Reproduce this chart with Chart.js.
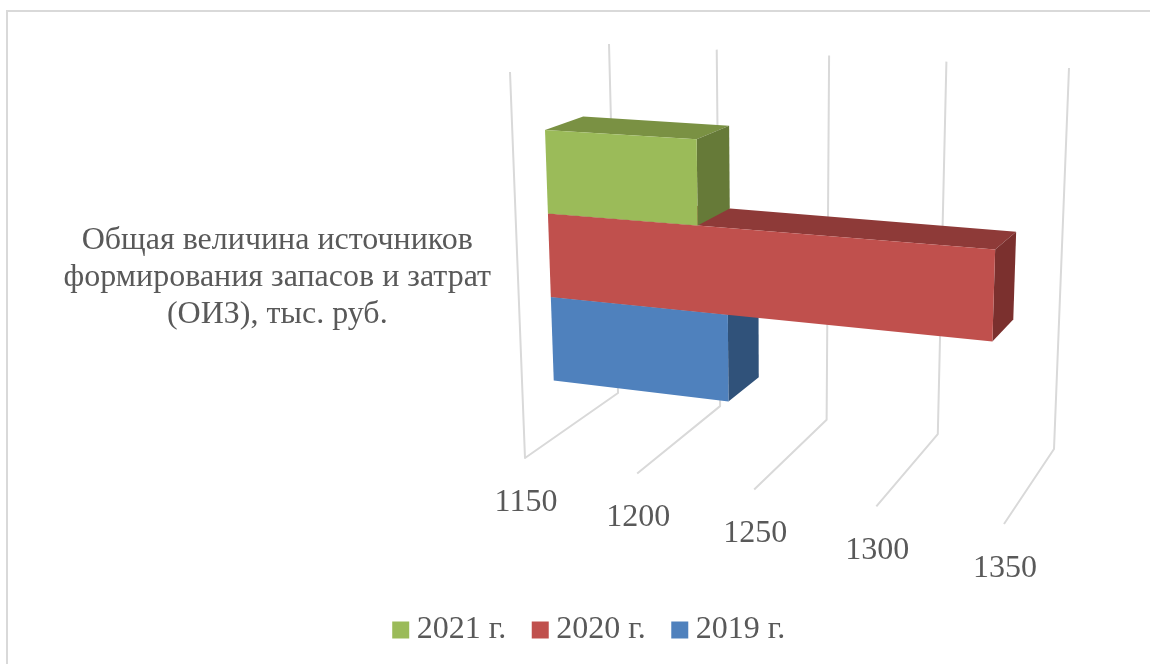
<!DOCTYPE html>
<html>
<head>
<meta charset="utf-8">
<style>
  html, body { margin: 0; padding: 0; background: #fff; overflow: hidden; }
  #frame { position: absolute; left: 6px; top: 10px; width: 1300px; height: 800px; border: 2px solid #d9d9d9; }
  #myChart { position: absolute; left: 0; top: 0; }
</style>
<script src="https://cdn.jsdelivr.net/npm/chart.js@4"></script>
</head>
<body>
<div id="frame"></div>
<canvas id="myChart" width="1150" height="664"></canvas>
<script>
const categories = [['Общая величина источников', 'формирования запасов и затрат', '(ОИЗ), тыс. руб.']];
const seriesNames = ['2021 г.', '2020 г.', '2019 г.'];
const values2021 = [1216];
const values2020 = [1337];
const values2019 = [1228.6];
const axisMin = 1150;
const axisMax = 1350;
const axisStep = 50;

const frontColors = ['#9bbb59', '#c0504d', '#4f81bd'];
const topColors = ['#7a9143', '#8e3a38', '#3b6291'];
const sideColors = ['#667a38', '#7b302e', '#30527a'];
const gridColor = '#d9d9d9';
const textColor = '#595959';
const fontFamily = '"Liberation Serif", serif';

// corners of the 3d box on screen: [u][v][w], u = value, v = top/bottom, w = front/back
const box = {
  ftl: [510, 72], ftr: [1018, 94], fbl: [525, 458], fbr: [1004, 524],
  btl: [609, 44], btr: [1069, 68], bbl: [618, 393], bbr: [1054, 449]
};
const barFront = 0.33; // depth where the bars start
const barBack = 0.72;  // depth where they end
const vShift = 0.015;
const uWarp = 1.09;    // perspective along the value axis

function lerp(a, b, t) { return a + (b - a) * t; }

function project(u, v, w) {
  const p = u / (u + uWarp * (1 - u));
  const out = [];
  for (let i = 0; i < 2; i++) {
    const top = lerp(lerp(box.ftl[i], box.ftr[i], p), lerp(box.btl[i], box.btr[i], p), w);
    const bot = lerp(lerp(box.fbl[i], box.fbr[i], p), lerp(box.bbl[i], box.bbr[i], p), w);
    out.push(lerp(top, bot, v));
  }
  return out;
}

function fillQuad(ctx, pts, color) {
  ctx.beginPath();
  ctx.moveTo(pts[0][0], pts[0][1]);
  for (let i = 1; i < pts.length; i++) ctx.lineTo(pts[i][0], pts[i][1]);
  ctx.closePath();
  ctx.fillStyle = color;
  ctx.fill();
}

function strokePath(ctx, pts) {
  ctx.beginPath();
  ctx.moveTo(pts[0][0], pts[0][1]);
  for (let i = 1; i < pts.length; i++) ctx.lineTo(pts[i][0], pts[i][1]);
  ctx.stroke();
}

// flat chart area -> 3d look, everything comes from the chart's own scales
const bars3d = {
  id: 'bars3d',
  afterLayout(chart) {
    // nudge the legend to where it sits in the original
    chart.legend.top -= 8;
    chart.legend.bottom -= 8;
    chart.legend.left += 63;
    chart.legend.right += 63;
  },
  beforeDatasetsDraw(chart) {
    const ctx = chart.ctx;
    const area = chart.chartArea;
    const xs = chart.scales.x;
    const toU = (px) => (px - area.left) / (area.right - area.left);
    const toV = (py) => (py - area.top) / (area.bottom - area.top) + vShift;

    ctx.save();
    ctx.strokeStyle = gridColor;
    ctx.lineWidth = 2;
    ctx.lineJoin = 'round';
    xs.ticks.forEach((t, i) => {
      const u = toU(xs.getPixelForTick(i));
      const path = [project(u, 1, 0), project(u, 1, 1), project(u, 0, 1)];
      if (i === 0) path.unshift(project(u, 0, 0));
      strokePath(ctx, path);
    });

    // bottom bar first, upper ones lie over it
    for (let d = chart.data.datasets.length - 1; d >= 0; d--) {
      const el = chart.getDatasetMeta(d).data[0];
      const u0 = toU(el.base);
      const u1 = toU(el.x);
      const v0 = toV(el.y - el.height / 2);
      const v1 = toV(el.y + el.height / 2);
      fillQuad(ctx, [project(u0, v0, barFront), project(u1, v0, barFront), project(u1, v0, barBack), project(u0, v0, barBack)], topColors[d]);
      fillQuad(ctx, [project(u1, v0, barFront), project(u1, v0, barBack), project(u1, v1, barBack), project(u1, v1, barFront)], sideColors[d]);
      fillQuad(ctx, [project(u0, v0, barFront), project(u1, v0, barFront), project(u1, v1, barFront), project(u0, v1, barFront)], frontColors[d]);
    }
    ctx.restore();
    return false;
  },
  afterDraw(chart) {
    const ctx = chart.ctx;
    const area = chart.chartArea;
    const xs = chart.scales.x;
    ctx.save();
    ctx.font = '32px ' + fontFamily;
    ctx.fillStyle = textColor;
    ctx.textAlign = 'center';
    ctx.textBaseline = 'middle';
    xs.ticks.forEach((t, i) => {
      const u = (xs.getPixelForTick(i) - area.left) / (area.right - area.left);
      const p = project(u, 1, 0);
      ctx.fillText(String(t.value), p[0] + 1, p[1] + 44.5);
    });
    ctx.restore();
  }
};

new Chart(document.getElementById('myChart'), {
  type: 'bar',
  data: {
    labels: categories,
    datasets: [
      { label: seriesNames[0], data: values2021, backgroundColor: frontColors[0], borderWidth: 0 },
      { label: seriesNames[1], data: values2020, backgroundColor: frontColors[1], borderWidth: 0 },
      { label: seriesNames[2], data: values2019, backgroundColor: frontColors[2], borderWidth: 0 }
    ]
  },
  options: {
    indexAxis: 'y',
    responsive: false,
    animation: false,
    layout: { padding: { top: 60, right: 90 } },
    datasets: { bar: { categoryPercentage: 0.67, barPercentage: 1, base: axisMin } },
    scales: {
      x: {
        type: 'linear',
        min: axisMin,
        max: axisMax,
        ticks: { stepSize: axisStep, display: false },
        grid: { display: false },
        border: { display: false },
        afterFit(s) { s.height = 95; }
      },
      y: {
        ticks: {
          crossAlign: 'center',
          padding: 6,
          color: textColor,
          font: { family: fontFamily, size: 32, lineHeight: 1.17 }
        },
        grid: { display: false },
        border: { display: false },
        afterFit(s) { s.width = 505; }
      }
    },
    plugins: {
      tooltip: { enabled: false },
      legend: {
        position: 'bottom',
        labels: {
          usePointStyle: true,
          pointStyle: 'rect',
          boxWidth: 0.01,
          boxHeight: 17,
          padding: 34,
          color: textColor,
          font: { family: fontFamily, size: 32, lineHeight: 1.3 }
        }
      }
    }
  },
  plugins: [bars3d]
});
</script>
</body>
</html>
